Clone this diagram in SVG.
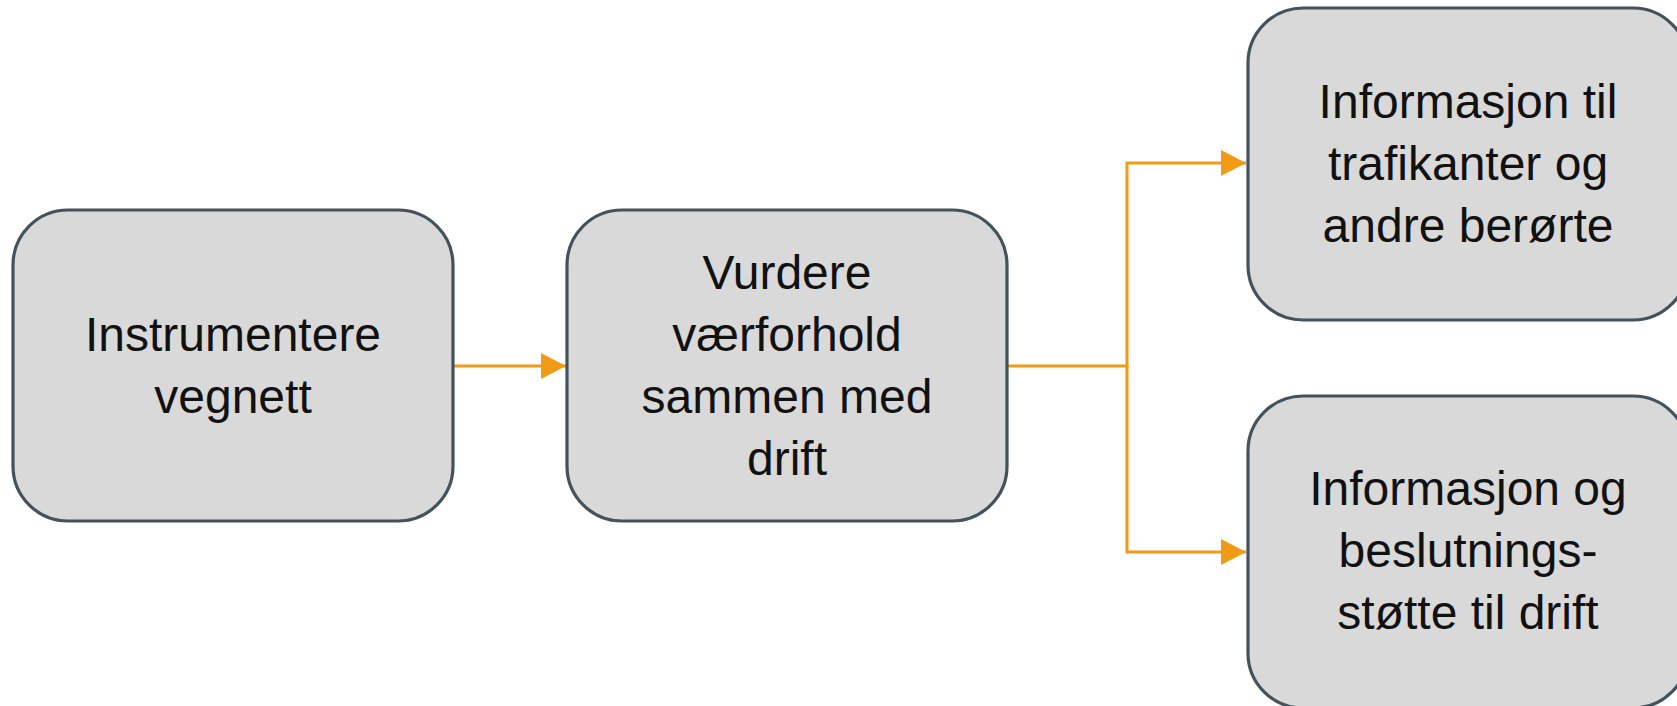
<svg xmlns="http://www.w3.org/2000/svg" width="1677" height="706" viewBox="0 0 1677 706">
<style>
.box{fill:#d9d9d9;stroke:#44525c;stroke-width:3.2}
.t{font-family:"Liberation Sans",Arial,sans-serif;font-size:48px;fill:#111;text-anchor:middle}
.c{fill:none;stroke:#f09a16;stroke-width:3}
</style>
<defs>
<marker id="a" viewBox="0 0 25 26" refX="25" refY="13" markerWidth="25" markerHeight="26" orient="auto" markerUnits="userSpaceOnUse">
<path d="M0,0 L25,13 L0,26 Z" fill="#f09a16"/>
</marker>
</defs>
<rect width="1677" height="706" fill="#fff"/>
<g id="connectors">
<path class="c" d="M454,366 H566" marker-end="url(#a)"/>
<path class="c" d="M1008,366 H1127 V163 H1246" marker-end="url(#a)"/>
<path class="c" d="M1127,366 V552 H1246" marker-end="url(#a)"/>
</g>
<g id="n1">
<rect class="box" x="13" y="210" width="440" height="311" rx="55"/>
<text class="t" x="233" y="351">Instrumentere</text>
<text class="t" x="233" y="413">vegnett</text>
</g>
<g id="n2">
<rect class="box" x="567" y="210" width="440" height="311" rx="55"/>
<text class="t" x="787" y="289">Vurdere</text>
<text class="t" x="787" y="351">værforhold</text>
<text class="t" x="787" y="413">sammen med</text>
<text class="t" x="787" y="475">drift</text>
</g>
<g id="n3">
<rect class="box" x="1248" y="8" width="440" height="312" rx="55"/>
<text class="t" x="1468" y="118">Informasjon til</text>
<text class="t" x="1468" y="180">trafikanter og</text>
<text class="t" x="1468" y="242">andre berørte</text>
</g>
<g id="n4">
<rect class="box" x="1248" y="396" width="440" height="312" rx="55"/>
<text class="t" x="1468" y="505">Informasjon og</text>
<text class="t" x="1468" y="567">beslutnings-</text>
<text class="t" x="1468" y="629">støtte til drift</text>
</g>
</svg>
